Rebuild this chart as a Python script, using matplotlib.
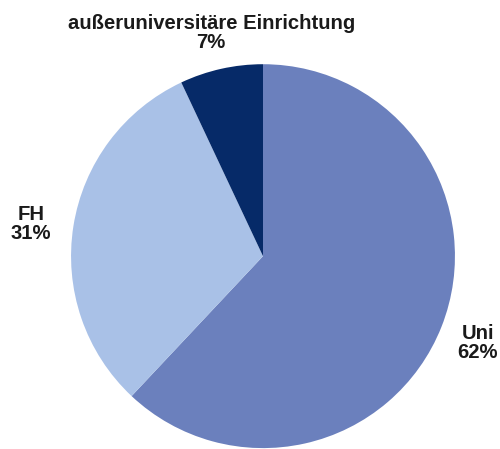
import matplotlib.pyplot as plt

# Anteile nach Einrichtungsart
categories = ['Uni', 'FH', 'außeruniversitäre Einrichtung']
shares = [62, 31, 7]
colors = ['#6b80bd', '#a9c1e7', '#062a68']

# Beschriftungspositionen (Datenkoordinaten, Radius = 1)
label_pos = [(1.12, -0.45), (-1.21, 0.165), (-0.27, 1.16)]

plt.rcParams['font.family'] = ['Liberation Sans', 'DejaVu Sans']

fig = plt.figure(figsize=(5, 4.49), dpi=100)
ax = fig.add_axes([0.142, 0.002, 0.768, 0.855])
ax.pie(shares, colors=colors, startangle=90, counterclock=False,
       radius=1, wedgeprops=dict(linewidth=0))
ax.set_xlim(-1, 1)
ax.set_ylim(-1, 1)
ax.set_aspect('equal')
ax.axis('off')

for name, val, (x, y) in zip(categories, shares, label_pos):
    ax.text(x, y, f'{name}\n{val}%', ha='center', va='center',
            fontsize=14.6, fontweight='bold', color='#1a1a1a',
            linespacing=1.0, clip_on=False)

fig.savefig('out.png', dpi=100)
